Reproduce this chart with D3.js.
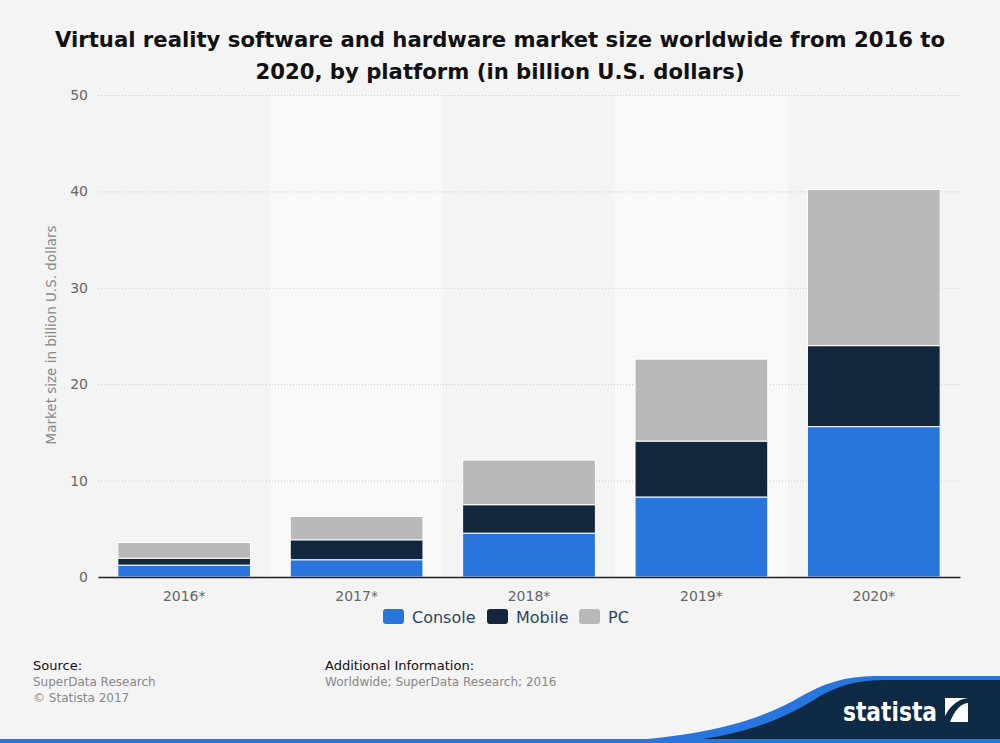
<!DOCTYPE html>
<html>
<head>
<meta charset="utf-8">
<script src="https://cdn.jsdelivr.net/npm/d3@7"></script>
<style>
  body { margin: 0; background: #f4f4f4; }
  svg { display: block; font-family: "DejaVu Sans", sans-serif; }
</style>
</head>
<body>
<div id="chart"></div>
<script>
var years   = ["2016*", "2017*", "2018*", "2019*", "2020*"];
var console_ = [1.23, 1.79, 4.55, 8.3, 15.6];
var mobile  = [0.72, 2.07, 2.95, 5.8, 8.4];
var pc      = [1.63, 2.42, 4.63, 8.5, 16.2];
var seriesNames = ["Console", "Mobile", "PC"];
var yTicks  = [0, 10, 20, 30, 40, 50];

var colors = ["#2876dd", "#12263e", "#b9b9b9"];

var W = 1000, H = 743;
var margin = {top: 95, right: 40, bottom: 166, left: 98};
var width = W - margin.left - margin.right,
    height = H - margin.top - margin.bottom;

var svg = d3.select("#chart").append("svg")
  .attr("width", W)
  .attr("height", H);

svg.append("rect").attr("width", W).attr("height", H).attr("fill", "#f4f4f4");

// title
var title = svg.append("text")
  .attr("text-anchor", "middle")
  .style("font-size", "21.2px")
  .style("font-weight", "bold")
  .style("fill", "#111");
title.append("tspan").attr("x", 500).attr("y", 47)
  .text("Virtual reality software and hardware market size worldwide from 2016 to");
title.append("tspan").attr("x", 500).attr("y", 79)
  .text("2020, by platform (in billion U.S. dollars)");

var g = svg.append("g")
  .attr("transform", "translate(" + margin.left + "," + margin.top + ")");

var x = d3.scaleBand().domain(years).range([0, width]).paddingInner(0.23).paddingOuter(0.115);
var band = d3.scaleBand().domain(years).range([0, width]);
var y = d3.scaleLinear().domain([0, 50]).range([height, 0]);

// alternating stripes
g.selectAll(".stripe")
  .data(years.filter(function(d, i) { return i % 2 === 1; }))
  .enter().append("rect")
  .attr("x", function(d) { return band(d); })
  .attr("y", 0)
  .attr("width", band.bandwidth())
  .attr("height", height)
  .attr("fill", "#f9f9f9");

// grid
g.selectAll(".grid")
  .data(yTicks.filter(function(d) { return d > 0; }))
  .enter().append("line")
  .attr("x1", 0).attr("x2", width)
  .attr("y1", function(d) { return y(d) + 0.5; })
  .attr("y2", function(d) { return y(d) + 0.5; })
  .attr("stroke", "#c8c8c8")
  .attr("stroke-dasharray", "1,2");

// stacked data
var rows = years.map(function(yr, i) {
  return { year: yr, Console: console_[i], Mobile: mobile[i], PC: pc[i] };
});
var stack = d3.stack().keys(seriesNames)(rows);

g.selectAll(".layer")
  .data(stack)
  .enter().append("g")
  .attr("fill", function(d, i) { return colors[i]; })
  .selectAll("rect")
  .data(function(d) { return d; })
  .enter().append("rect")
  .attr("x", function(d) { return x(d.data.year); })
  .attr("y", function(d) { return y(d[1]); })
  .attr("width", x.bandwidth())
  .attr("height", function(d) { return y(d[0]) - y(d[1]); })
  .attr("stroke", "#fff")
  .attr("stroke-width", 1);

// axes
var yAxis = g.append("g")
  .call(d3.axisLeft(y).tickValues(yTicks).tickSize(0).tickPadding(10));
yAxis.select(".domain").remove();
yAxis.selectAll("text")
  .style("font-size", "14px")
  .style("fill", "#666")
  .style("font-family", "DejaVu Sans");

var xAxis = g.append("g")
  .attr("transform", "translate(0," + height + ")")
  .call(d3.axisBottom(x).tickSize(0).tickPadding(14));
xAxis.select(".domain").attr("stroke", "#222").attr("stroke-width", 1.5);
xAxis.selectAll("text")
  .style("font-size", "14px")
  .style("fill", "#666")
  .style("font-family", "DejaVu Sans");

svg.append("text")
  .attr("transform", "translate(56,335) rotate(-90)")
  .attr("text-anchor", "middle")
  .style("font-size", "13.5px")
  .style("fill", "#888")
  .text("Market size in billion U.S. dollars");

// legend
var legendX = [383, 487, 579];
var legend = svg.selectAll(".legend")
  .data(seriesNames)
  .enter().append("g")
  .attr("transform", function(d, i) { return "translate(" + legendX[i] + ",609)"; });
legend.append("rect")
  .attr("width", 21).attr("height", 15).attr("rx", 3)
  .attr("fill", function(d, i) { return colors[i]; });
legend.append("text")
  .attr("x", 29).attr("y", 14)
  .style("font-size", "16px")
  .style("fill", "#2b4563")
  .text(function(d) { return d; });

// footer
var foot = svg.append("g").style("font-size", "13px");
foot.append("text").attr("x", 33).attr("y", 670).style("fill", "#111").text("Source:");
foot.append("text").attr("x", 33).attr("y", 686).style("fill", "#888").style("font-size", "12px").text("SuperData Research");
foot.append("text").attr("x", 33).attr("y", 702).style("fill", "#888").style("font-size", "12px").text("\u00a9 Statista 2017");
foot.append("text").attr("x", 325).attr("y", 670).style("fill", "#111").text("Additional Information:");
foot.append("text").attr("x", 325).attr("y", 686).style("fill", "#888").style("font-size", "12px").text("Worldwide; SuperData Research; 2016");

// statista logo wave
svg.append("path")
  .attr("d", "M560,743 C700,742 760,720 800,697 C830,680 850,676 880,676 L1000,676 L1000,743 Z")
  .attr("fill", "#2876dd");
svg.append("path")
  .attr("d", "M660,743 C740,740 790,716 820,696 C845,683 860,680 890,680 L1000,680 L1000,743 Z")
  .attr("fill", "#0e2a45");
svg.append("rect").attr("x", 0).attr("y", 739).attr("width", W).attr("height", 4).attr("fill", "#2876dd");

svg.append("text")
  .attr("x", 843).attr("y", 721)
  .attr("textLength", 94)
  .attr("lengthAdjust", "spacingAndGlyphs")
  .style("font-size", "27px")
  .style("font-weight", "bold")
  .style("fill", "#fff")
  .text("statista");
svg.append("rect").attr("x", 945).attr("y", 698).attr("width", 23).attr("height", 24).attr("fill", "#fff");
svg.append("path")
  .attr("d", "M945,722 L950,722 C955,710 960,704 968,703 L968,698 C958,699 950,706 945,716 Z")
  .attr("fill", "#0e2a45");
</script>
</body>
</html>
